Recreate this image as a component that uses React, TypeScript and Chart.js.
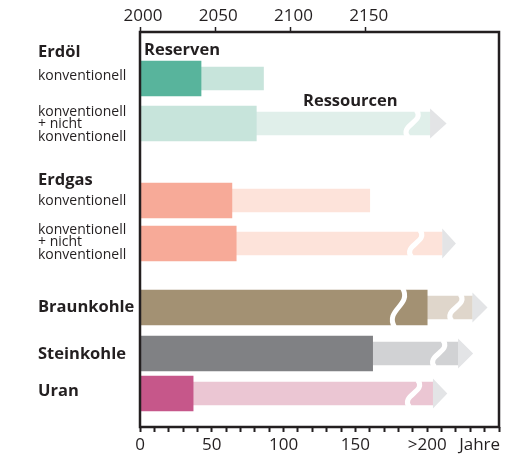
import React, { useEffect, useRef } from 'react';
import { Chart, registerables } from 'chart.js';

Chart.register(...registerables);

// ---------- data ----------
const categories = [
  'Erdöl konventionell',
  'Erdöl konventionell + nicht konventionell',
  'Erdgas konventionell',
  'Erdgas konventionell + nicht konventionell',
  'Braunkohle',
  'Steinkohle',
  'Uran',
];
// static range of reserves (years)
const reserveYears = [42.5, 81, 64, 67, 200, 162, 37];
// static range of resources (years, end of the light bar)
const resourceYears = [86, 202, 160, 210.5, 231.5, 221.5, 204];
// end of the arrow head (years); null = no arrow
const arrowYears: (number | null)[] = [null, 213.5, null, 220, 242, 232, 214];
// positions of the scale breaks (years)
const breakYears: number[][] = [[], [189.5], [], [192], [180, 220], [208], [190.5]];

const bottomTickLabels: Record<number, string> = { 0: '0', 50: '50', 100: '100', 150: '150', 200: '>200' };
const unitLabel = 'Jahre';
const unitLabelAt = 236.5;
const yearTicks = [2000, 2050, 2100, 2150];

// ---------- layout / style ----------
const ROW_Y = [46.5, 91.5, 168.5, 211.5, 275.5, 321.5, 361.5];
const reserveColors = ['#58b49c', '#c7e4db', '#f7aa98', '#f7aa98', '#a39173', '#808184', '#c6578a'];
const resourceColors = ['#c7e4db', '#e0efea', '#fde3da', '#fde3da', '#dfd6cb', '#d1d2d4', '#ebc6d3'];
const ARROW_COLOR = '#e3e4e6';
const INK = '#231f20';
const FONT = '"Open Sans", "Noto Sans", sans-serif';
const THICK = 35;
const THIN = 23;

type TextItem = { t: string; y: number; bold?: boolean };
const leftLabels: TextItem[] = [
  { t: 'Erdöl', y: 52, bold: true },
  { t: 'konventionell', y: 76 },
  { t: 'konventionell', y: 112 },
  { t: '+ nicht', y: 124.5 },
  { t: 'konventionell', y: 137 },
  { t: 'Erdgas', y: 180, bold: true },
  { t: 'konventionell', y: 201 },
  { t: 'konventionell', y: 230 },
  { t: '+ nicht', y: 242.5 },
  { t: 'konventionell', y: 255 },
  { t: 'Braunkohle', y: 307, bold: true },
  { t: 'Steinkohle', y: 354, bold: true },
  { t: 'Uran', y: 391, bold: true },
];

const overlayPlugin = {
  id: 'overlay',
  afterDatasetsDraw(chart: any) {
    const ctx = chart.ctx as CanvasRenderingContext2D;
    const xs = chart.scales.x;
    const ys = chart.scales.y;
    ctx.save();
    // arrows
    categories.forEach((_, i) => {
      const a = arrowYears[i];
      if (a == null) return;
      const x0 = xs.getPixelForValue(resourceYears[i]);
      const x1 = xs.getPixelForValue(a);
      const cy = ys.getPixelForValue(ROW_Y[i]);
      ctx.fillStyle = ARROW_COLOR;
      ctx.beginPath();
      ctx.moveTo(x0, cy - 15);
      ctx.lineTo(x1, cy);
      ctx.lineTo(x0, cy + 15);
      ctx.closePath();
      ctx.fill();
    });
    // breaks
    categories.forEach((_, i) => {
      const cy = ys.getPixelForValue(ROW_Y[i]);
      breakYears[i].forEach((b) => {
        const px = xs.getPixelForValue(b);
        const h = b < reserveYears[i] ? THICK : THIN;
        const top = cy - h / 2 - 2;
        const bot = cy + h / 2 + 2;
        ctx.strokeStyle = '#ffffff';
        ctx.lineWidth = 5;
        ctx.beginPath();
        ctx.moveTo(px + 4, top);
        ctx.bezierCurveTo(px + 14, cy - 2, px - 14, cy + 2, px - 4, bot);
        ctx.stroke();
      });
    });
    ctx.restore();
  },
  afterDraw(chart: any) {
    const ctx = chart.ctx as CanvasRenderingContext2D;
    const area = chart.chartArea;
    ctx.save();
    ctx.strokeStyle = INK;
    ctx.lineWidth = 2.5;
    ctx.strokeRect(area.left, area.top, area.right - area.left, area.bottom - area.top);

    ctx.fillStyle = INK;
    ctx.textBaseline = 'middle';
    ctx.textAlign = 'left';
    leftLabels.forEach((l) => {
      ctx.font = l.bold ? `bold 16.5px ${FONT}` : `14px ${FONT}`;
      ctx.fillText(l.t, 38, l.y);
    });
    ctx.font = `bold 16.5px ${FONT}`;
    ctx.fillText('Reserven', 144, 50);
    ctx.fillText('Ressourcen', 303, 101);
    ctx.restore();
  },
};

export default function App() {
  const ref = useRef<HTMLCanvasElement | null>(null);
  useEffect(() => {
    if (!ref.current) return;
    const reserveData = categories.map((_, i) => ({ x: [0, reserveYears[i]], y: ROW_Y[i] }));
    const resourceData = categories.map((_, i) => ({ x: [reserveYears[i], resourceYears[i]], y: ROW_Y[i] }));
    const chart = new Chart(ref.current, {
      type: 'bar',
      data: {
        datasets: [
          {
            label: 'Reserven',
            data: reserveData as any,
            backgroundColor: reserveColors,
            barThickness: THICK,
            grouped: false,
            borderWidth: 0,
          } as any,
          {
            label: 'Ressourcen',
            data: resourceData as any,
            backgroundColor: resourceColors,
            barThickness: THIN,
            grouped: false,
            borderWidth: 0,
          } as any,
        ],
      },
      options: {
        indexAxis: 'y',
        animation: false,
        responsive: false,
        maintainAspectRatio: false,
        layout: { padding: { left: 140, right: 10, top: 0, bottom: 0 } },
        plugins: { legend: { display: false }, tooltip: { enabled: false } },
        scales: {
          y: { type: 'linear', min: 0, max: 395, reverse: true, offset: false, display: false },
          x: {
            type: 'linear',
            position: 'bottom',
            min: 0,
            max: 250,
            border: { display: false },
            grid: {
              drawOnChartArea: false,
              drawTicks: true,
              tickLength: 5,
              tickWidth: 2,
              tickColor: (c: any) => (c.tick && c.tick.value === unitLabelAt ? 'rgba(0,0,0,0)' : INK),
            },
            ticks: {
              autoSkip: false,
              maxRotation: 0,
              padding: 3,
              color: INK,
              font: { family: FONT, size: 17 },
              callback: (v: any) => (v === unitLabelAt ? unitLabel : bottomTickLabels[v as number] ?? ''),
            },
            afterBuildTicks: (scale: any) => {
              const t: any[] = [];
              for (let v = 0; v <= 250; v += 10) t.push({ value: v });
              t.push({ value: unitLabelAt });
              scale.ticks = t;
            },
            afterFit: (scale: any) => {
              scale.height = 28;
            },
          } as any,
          x2: {
            type: 'linear',
            axis: 'x',
            position: 'top',
            min: 2000,
            max: 2238.6,
            border: { display: false },
            grid: { drawOnChartArea: false, tickLength: 5, tickWidth: 1.5, tickColor: INK },
            ticks: {
              autoSkip: false,
              maxRotation: 0,
              padding: 1,
              labelOffset: 3,
              color: INK,
              font: { family: FONT, size: 17 },
              callback: (v: any) => String(v),
            },
            afterBuildTicks: (scale: any) => {
              scale.ticks = yearTicks.map((v) => ({ value: v }));
            },
            afterFit: (scale: any) => {
              scale.height = 32;
            },
          } as any,
        },
      },
      plugins: [overlayPlugin],
    });
    return () => chart.destroy();
  }, []);
  return (
    <div style={{ position: 'fixed', left: 0, top: 0, width: 509, height: 455 }}>
      <canvas ref={ref} width={509} height={455} />
    </div>
  );
}
